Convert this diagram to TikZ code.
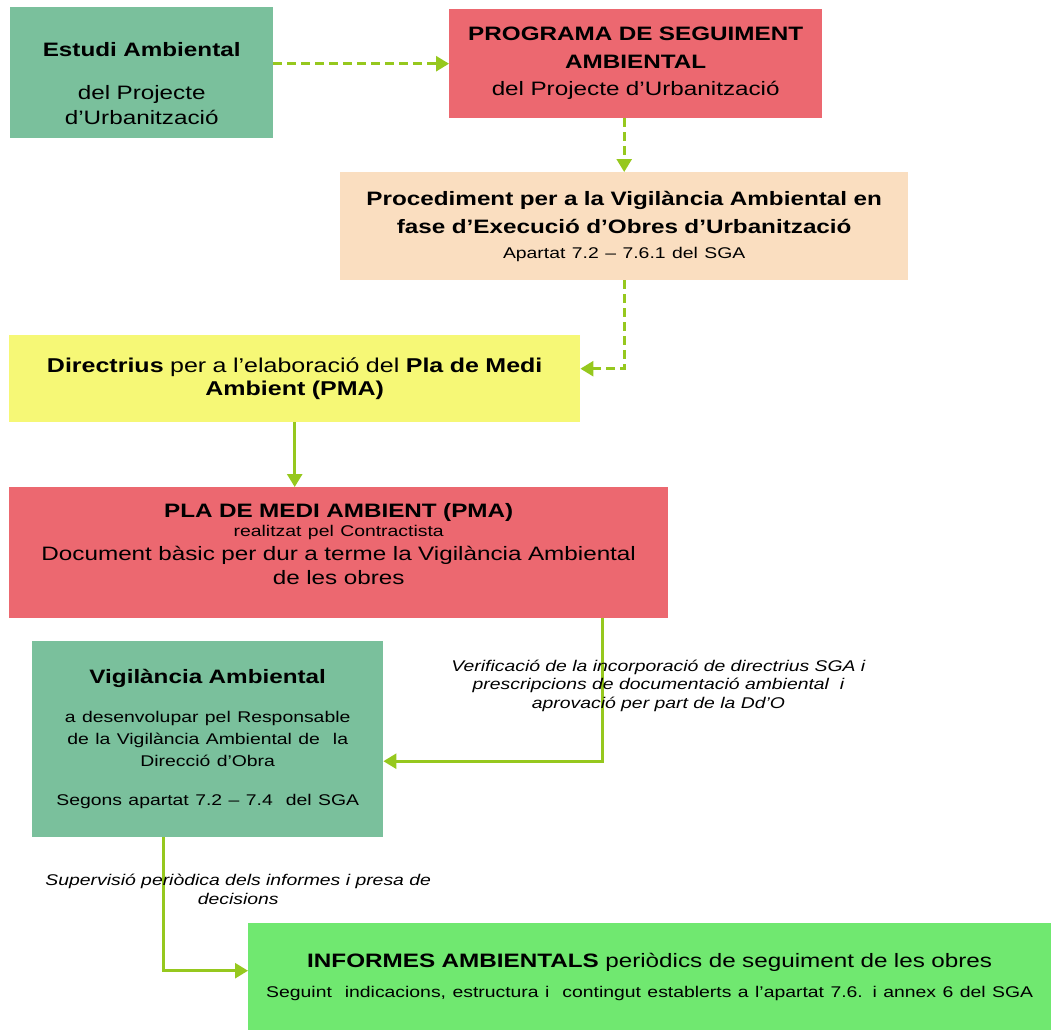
\documentclass[tikz,border=0pt]{standalone}
\usepackage{fontspec}
\setmainfont{Liberation Sans}[FakeStretch=1.25]
\usetikzlibrary{arrows.meta}
\definecolor{tealbox}{RGB}{122,192,156}
\definecolor{redbox}{RGB}{236,104,112}
\definecolor{peachbox}{RGB}{250,222,192}
\definecolor{yellowbox}{RGB}{246,248,118}
\definecolor{limebox}{RGB}{112,232,112}
\definecolor{arrowgreen}{RGB}{150,200,30}
\newcommand{\bigtext}[1]{\fontsize{19.4}{#1}\selectfont}
\newcommand{\smalltext}[1]{\fontsize{15.5}{#1}\selectfont}
\newcommand{\lift}[1]{\rule{0pt}{#1}}
\newcommand{\sink}[1]{\rule[-#1]{0pt}{0pt}}
\tikzset{
    box/.style = {rectangle, inner sep=0pt, align=center, anchor=north west, font=\bigtext{24}},
    flow/.style = {draw=arrowgreen, line width=2.6pt, -{Triangle[length=13pt,width=15pt]}},
    dashflow/.style = {flow, dash pattern=on 9pt off 5pt},
    note/.style = {inner sep=0pt, align=center, font=\smalltext{18.5}\itshape}
}

\begin{document}
\begin{tikzpicture}[x=1pt,y=-1pt]
    \useasboundingbox (0,0) rectangle (1051,1030);

    \node[box, fill=tealbox, minimum width=263pt, minimum height=131pt, text width=255pt] (estudi) at (10,7)
        {\bfseries\lift{36pt}Estudi Ambiental\par\vspace{18pt}\mdseries\bigtext{25}del Projecte\\d’Urbanització\par};
    \node[box, fill=redbox, minimum width=373pt, minimum height=109pt, text width=365pt] (programa) at (449,9)
        {\bigtext{27.5}\bfseries PROGRAMA DE SEGUIMENT\\AMBIENTAL\\\mdseries del Projecte d’Urbanització\par};
    \node[box, fill=peachbox, minimum width=568pt, minimum height=108pt, text width=560pt] (procediment) at (340,172)
        {\bigtext{28}\bfseries Procediment per a la Vigilància Ambiental en\\fase d’Execució d’Obres d’Urbanització\par
         \smalltext{25}\mdseries Apartat 7.2 – 7.6.1 del SGA\par};
    \node[box, fill=yellowbox, minimum width=571pt, minimum height=87pt, text width=563pt] (directrius) at (9,335)
        {\fontsize{20}{23}\selectfont\textbf{Directrius} per a l’elaboració del \textbf{Pla de Medi}\\\textbf{Ambient (PMA)}\par};
    \node[box, fill=redbox, minimum width=659pt, minimum height=131pt, text width=651pt] (pla) at (9,487)
        {\textbf{PLA DE MEDI AMBIENT (PMA)}\par
         \smalltext{19}realitzat pel Contractista\par
         \bigtext{24}Document bàsic per dur a terme la Vigilància Ambiental\\de les obres\sink{18pt}\par};
    \node[box, fill=tealbox, minimum width=351pt, minimum height=196pt, text width=343pt] (vigilancia) at (32,641)
        {\textbf{Vigilància Ambiental}\par\vspace{17pt}
         \smalltext{22}a desenvolupar pel Responsable\\de la Vigilància Ambiental de\ \ la\\Direcció d’Obra\par\vspace{17pt}
         Segons apartat 7.2 – 7.4\ \ del SGA\par};
    \node[box, fill=limebox, minimum width=803pt, minimum height=107pt, text width=795pt] (informes) at (248,923)
        {\textbf{INFORMES AMBIENTALS} periòdics de seguiment de les obres\par
         \smalltext{30}Seguint\ \ indicacions, estructura i\ \ contingut establerts a l’apartat 7.6. i annex 6 del SGA\par};

    \draw[dashflow] (estudi.east |- programa.west) -- (programa.west);
    \draw[dashflow] (programa.south -| procediment.north) -- (procediment.north);
    \draw[dashflow] (procediment.south) |- ([yshift=10pt]directrius.east);
    \draw[flow] (directrius.south) -- (directrius.south |- pla.north);
    \draw[flow] ([xshift=-66pt]pla.south east) |- node[note, pos=0.235, xshift=56pt] (verif)
        {Verificació de la incorporació de directrius SGA i\\prescripcions de documentació ambiental\ \ i\\aprovació per part de la Dd’O}
        ([yshift=-22pt]vigilancia.east);
    \draw[flow] ([xshift=-44.5pt]vigilancia.south) |- node[note, pos=0.195, xshift=75pt] (superv)
        {Supervisió periòdica dels informes i presa de\\decisions}
        ([yshift=6pt]informes.west);
\end{tikzpicture}
\end{document}
